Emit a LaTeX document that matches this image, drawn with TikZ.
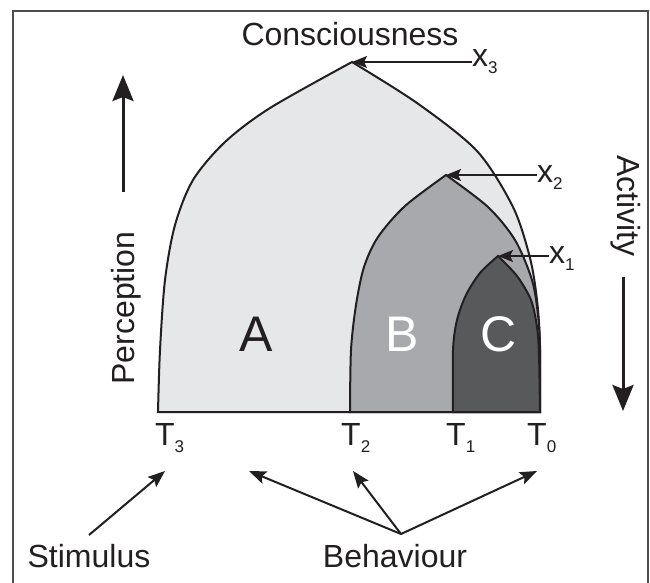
\documentclass[tikz,border=0pt]{standalone}
\usepackage{fontspec}
\setmainfont{Liberation Sans}
\usetikzlibrary{arrows.meta}
\definecolor{ink}{HTML}{231F20}
\definecolor{fillA}{HTML}{E6E7E8}
\definecolor{fillB}{HTML}{A7A9AC}
\definecolor{fillC}{HTML}{58595B}
\definecolor{framec}{HTML}{4D4D4F}
\newcommand\subdig[1]{\raisebox{-7pt}{\fontsize{17}{17}\selectfont #1}}
\begin{document}
\begin{tikzpicture}[x=1pt,y=-1pt,
 lbl/.style={font=\fontsize{32}{32}\selectfont, text=ink, inner sep=0pt},
 big/.style={font=\fontsize{50}{50}\selectfont, inner sep=0pt},
 region/.style={draw=ink, line width=2pt, line join=miter},
 ptr/.style={draw=ink, line width=1.8pt, -{Stealth[length=15pt,width=12pt,inset=3pt]}},
 ptrb/.style={draw=ink, line width=2pt, -{Stealth[length=17pt,width=13pt,inset=3pt]}},
 bigarr/.style={draw=ink, line width=3pt, -{Stealth[length=26pt,width=21pt,inset=4pt]}}]
\useasboundingbox (0,0) rectangle (650,582);
\fill[white] (0,0) rectangle (650,582);
\draw[framec, line width=1.6pt] (13,600) -- (13,11) -- (648,11) -- (648,600);

% regions
\filldraw[region, fill=fillA] (158,412) -- plot[smooth] coordinates {(158,412) (160,350) (165,280) (175,225) (193,180) (225,142) (270,108) (352,62)}
  -- plot[smooth] coordinates {(352,62) (417,103) (477,151) (513,207) (530,258) (537,300) (540,345) (540,412)} -- cycle;
\filldraw[region, fill=fillB] (350,412) -- plot[smooth] coordinates {(350,412) (351,350) (356,305) (364,267) (378,237) (405,206) (446,175)}
  -- plot[smooth] coordinates {(446,175) (488,207) (515,240) (532,280) (538,315) (540,350) (540,412)} -- cycle;
\filldraw[region, fill=fillC] (453,412) -- plot[smooth] coordinates {(453,412) (453,350) (457,320) (466,295) (480,273) (498,256)}
  -- plot[smooth] coordinates {(498,256) (517,276) (531,300) (537,327) (539,355) (540,412)} -- cycle;

\coordinate (ax3) at (352,62);
\coordinate (ax2) at (446,175);
\coordinate (ax1) at (498,256);

% letters
\node[big, text=ink] (la) at (256,334) {A};
\node[big, text=white] (lb) at (402,334) {B};
\node[big, text=white] (lc) at (499,334) {C};

% top
\node[lbl, anchor=base] (cons) at (350,45) {Consciousness};
\node[lbl, anchor=base west] (x3) at (472,66) {x\subdig{3}};
\node[lbl, anchor=base west] (x2) at (537,182) {x\subdig{2}};
\node[lbl, anchor=base west] (x1) at (549,263) {x\subdig{1}};
\draw[ptr] (x3.west |- ax3) -- (ax3);
\draw[ptr] (x2.west |- ax2) -- (ax2);
\draw[ptr] (x1.west |- ax1) -- (ax1);

% side labels
\node[lbl, anchor=base, rotate=90] (perc) at (134,308) {Perception};
\coordinate (pa1) at (123,192);
\coordinate (pa2) at (123,75);
\draw[bigarr] (pa1) -- (pa2);
\node[lbl, anchor=base, rotate=-90] (act) at (617,206) {Activity};
\coordinate (aa1) at (623,277);
\coordinate (aa2) at (623,411);
\draw[bigarr] (aa1) -- (aa2);

% T labels
\node[lbl, anchor=base west] (t3) at (155,445) {T\subdig{3}};
\node[lbl, anchor=base west] (t2) at (341,445) {T\subdig{2}};
\node[lbl, anchor=base west] (t1) at (446,445) {T\subdig{1}};
\node[lbl, anchor=base west] (t0) at (527,445) {T\subdig{0}};

% bottom
\node[lbl, anchor=base] (stim) at (89,567) {Stimulus};
\node[lbl, anchor=base] (beh) at (395,567) {Behaviour};
\coordinate (sa) at (89,535);
\coordinate (st) at (165,471);
\coordinate (bo) at (401,534);
\coordinate (b1) at (249,471);
\coordinate (b2) at (353,471);
\coordinate (b3) at (537,471);
\draw[ptrb] (sa) -- (st);
\draw[ptrb] (bo) -- (b1);
\draw[ptrb] (bo) -- (b2);
\draw[ptrb] (bo) -- (b3);
\end{tikzpicture}
\end{document}
